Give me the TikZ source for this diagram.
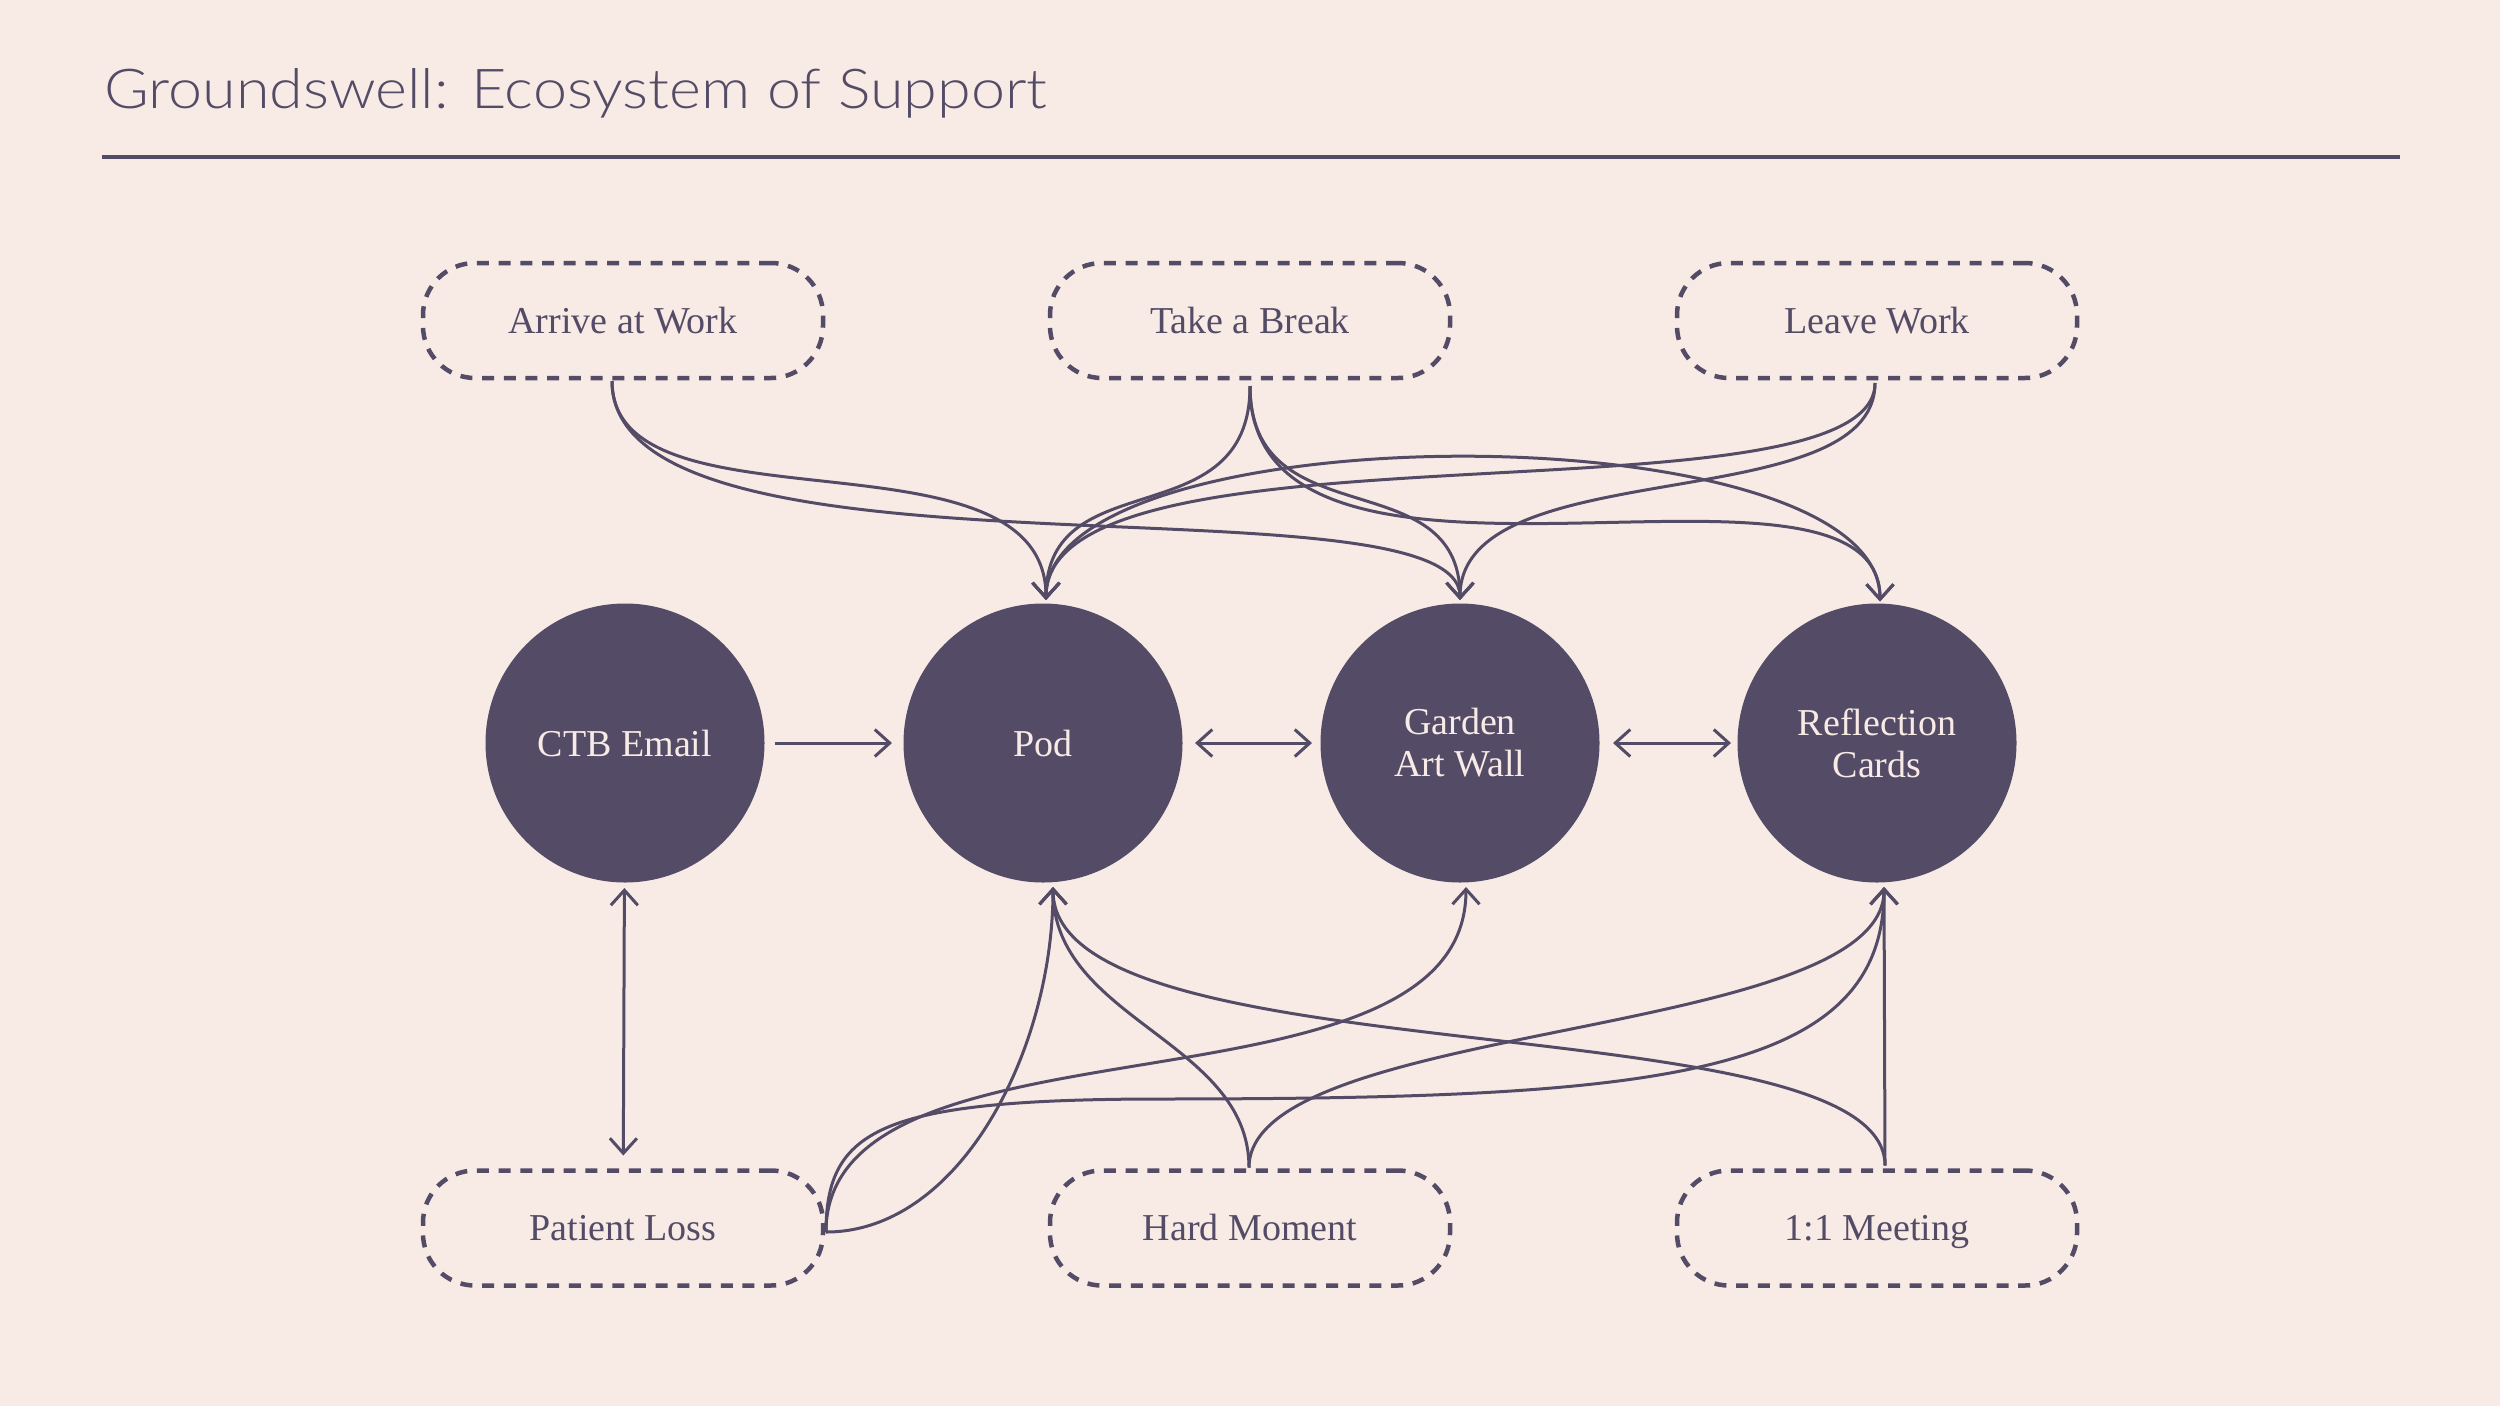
\documentclass[tikz,border=0pt]{standalone}
\usepackage{fontspec}
\setmainfont{Liberation Serif}
\newfontfamily\titlefont{Lato Light}
\usetikzlibrary{arrows.meta,calc}
\definecolor{bg}{HTML}{F8EBE6}
\definecolor{ink}{HTML}{544C66}
\begin{document}
\begin{tikzpicture}[x=1pt,y=-1pt,
  hub/.style={circle,fill=ink,minimum size=279pt,inner sep=0pt,outer sep=0pt,
    text=bg,font=\fontsize{38}{42}\selectfont,align=center},
  event/.style={rectangle,rounded corners=52pt,draw=ink,line width=4.5pt,
    dash pattern=on 12pt off 9.7pt,minimum width=400pt,minimum height=115pt,
    text height=34pt,text depth=9pt,
    outer sep=0pt,text=ink,font=\fontsize{38}{42}\selectfont},
  link/.style={draw=ink,line width=3pt,-{Straight Barb[length=15pt,width=27pt]}},
  blink/.style={draw=ink,line width=3pt,{Straight Barb[length=15pt,width=27pt]}-{Straight Barb[length=15pt,width=27pt]}}]
\useasboundingbox (0,0) rectangle (2500,1406);
\fill[bg] (0,0) rectangle (2500,1406);

% title
\node[anchor=base west,inner sep=0pt,text=ink,font=\titlefont\fontsize{55}{62}\selectfont] (title) at (104,108) {\scalebox{1.11}[1]{Groundswell: Ecosystem of Support}};
\coordinate (ruleL) at (102,157);
\coordinate (ruleR) at (2400,157);
\draw[ink,line width=3.3pt] (ruleL) -- (ruleR);

% hubs
\node[hub] (ctb) at (625,743) {CTB Email};
\node[hub] (pod) at (1043,743) {Pod};
\node[hub] (garden) at (1460,743) {Garden\\Art Wall};
\node[hub] (refl) at (1877,743) {Reflection\\Cards};

% events
\node[event] (arrive) at (623,320.5) {Arrive at Work};
\node[event] (brk) at (1250,320.5) {Take a Break};
\node[event] (leave) at (1877,320.5) {Leave Work};
\node[event] (loss) at (623,1228) {Patient Loss};
\node[event] (hard) at (1250,1228) {Hard Moment};
\node[event] (meet) at (1877,1228) {1:1 Meeting};

% anchor points
\coordinate (aS) at ($(arrive.south)+(-11,3)$);
\coordinate (bS) at ($(brk.south)+(0,8)$);
\coordinate (lS) at ($(leave.south)+(-2,5)$);
\coordinate (podT) at ($(pod.north)+(3,-3.5)$);
\coordinate (gardenT) at ($(garden.north)+(0,-3.5)$);
\coordinate (reflT) at ($(refl.north)+(3,-2)$);
\coordinate (podB) at ($(pod.south)+(10,4.5)$);
\coordinate (gardenB) at ($(garden.south)+(6,4.5)$);
\coordinate (reflB) at ($(refl.south)+(7,4.5)$);
\coordinate (plE) at ($(loss.east)+(3,4)$);
\coordinate (hmT) at ($(hard.north)+(-1,-3)$);
\coordinate (mtT) at ($(meet.north)+(8,-5)$);
\coordinate (plMid) at (1150,1099);

% horizontal links
\draw[link,shorten <=10pt,shorten >=11.5pt] (ctb) -- (pod);
\draw[blink,shorten <=12.5pt,shorten >=8.5pt] (pod) -- (garden);
\draw[blink,shorten <=13.5pt,shorten >=6.5pt] (garden) -- (refl);
\draw[blink,shorten <=5.5pt,shorten >=15pt] (ctb) -- (loss);

% top connectors
\draw[link] (aS) .. controls +(0,158) and +(0,-180) .. (podT);
\draw[link] (aS) .. controls +(0,218) and +(0,-130) .. (gardenT);
\draw[link] (bS) .. controls +(0,153) and +(0,-140) .. (podT);
\draw[link] (bS) .. controls +(0,153) and +(0,-140) .. (gardenT);
\draw[link] (bS) .. controls +(0,263) and +(0,-183) .. (reflT);
\draw[link] (lS) .. controls +(0,147) and +(0,-190) .. (podT);
\draw[link] (lS) .. controls +(0,137) and +(0,-150) .. (gardenT);
\draw[blink] (podT) .. controls +(0,-190) and +(0,-193) .. (reflT);

% bottom connectors
\draw[link] (plE) .. controls +(134,0) and +(0,163) .. (podB);
\draw[link] (plE) .. controls +(0,-232) and +(0,243) .. (gardenB);
\draw[link] (plE) .. controls +(0,-102) and +(-270,1) .. (plMid) .. controls +(500,0) and +(0,193) .. (reflB);
\draw[link] (hmT) .. controls +(0,-127) and +(0,133) .. (podB);
\draw[link] (hmT) .. controls +(0,-147) and +(0,153) .. (reflB);
\draw[link] (mtT) .. controls +(0,-165) and +(0,193) .. (podB);
\draw[link] (mtT) -- (reflB);
\end{tikzpicture}
\end{document}
